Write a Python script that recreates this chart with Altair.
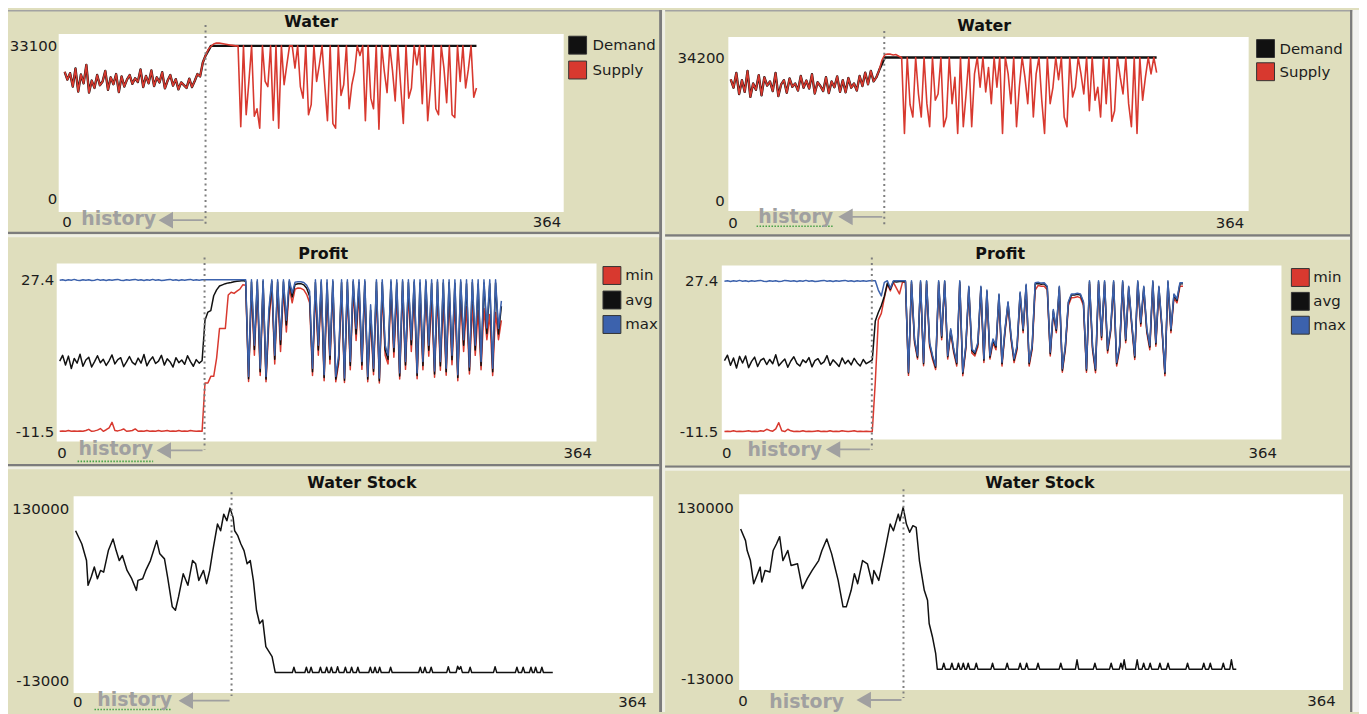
import altair as alt
import pandas as pd

OX, OY = 8, 8
W, H = 1359, 706
FONT = "DejaVu Sans"
BEIGE = "#dfdebd"
RED = "#d8392f"
BLUE = "#3c62ad"
BLACK = "#111111"
HIST_GREY = "#a0a0a0"
LABEL = "#1c1c1c"

# ---------------- data ----------------
# Water, left run (t = 0, 2, 4, ...)
TL_PRE = [27500, 25800, 27200, 24300, 28200, 23200, 26900, 25000, 29000, 23000,
          25600, 24000, 26800, 24600, 25400, 27700, 23600, 26300, 24800, 27000,
          23100, 26500, 24300, 25800, 26800, 24900, 26100, 25300, 28000, 24200,
          26600, 25000, 27800, 24400, 26300, 25200, 27400, 23900, 25600, 26800,
          24500, 25900, 23700, 25200, 24600, 24000, 26000, 24200, 25500, 27000]
TL_SUPPLY_RAMP = [26500, 29500, 31000, 32300, 33000, 33500, 33700, 33700, 33600, 33500,
                  33400, 33300, 33200, 33100]
TL_SUPPLY_POST = [33100, 15600, 33100, 18200, 25400, 33100, 17900, 19500, 15300, 33100,
                  25400, 24300, 33100, 17000, 33100, 15300, 33100, 24700, 29000, 33100,
                  33100, 28300, 33100, 24300, 21800, 33100, 18200, 20400, 33100, 25400,
                  29000, 33100, 24700, 16900, 33100, 16300, 15300, 33100, 22400, 24700,
                  33100, 19500, 24700, 27500, 33100, 31000, 33100, 16900, 33100, 21800,
                  19500, 33100, 15100, 33100, 27500, 23000, 33100, 27800, 21200, 33100,
                  24700, 16300, 33100, 21800, 24000, 33100, 29000, 33100, 20600, 33100,
                  16900, 24000, 33100, 19500, 18200, 33100, 28300, 20800, 33100, 18200,
                  17600, 33100, 25400, 33100, 24000, 28000, 33100, 22000, 24000]
TL_DEMAND_TAIL = [(100, 26500), (102, 29500), (104, 31000), (108, 33100), (304, 33100)]

# Water, right run
TR_PRE = [29000, 27000, 30500, 25500, 28800, 26000, 31000, 24800, 28000, 26500,
          30000, 25200, 29500, 27500, 28500, 26200, 30500, 25000, 27800, 28800,
          25800, 29200, 27200, 28000, 26300, 29800, 27000, 28700, 26800, 30200,
          25600, 28300, 27400, 26200, 29500, 25700, 28500, 27100, 29700, 26000,
          28800, 25900, 29300, 27000, 28000, 26300, 29800, 27400, 30600, 27800,
          31000, 28500]
TR_SUPPLY_RAMP = [29500, 31200, 33600, 34900, 35000, 35000, 34800, 34900, 34500]
TR_SUPPLY_POST = [34200, 16100, 34200, 23000, 20000, 34200, 25500, 20000, 34200, 23200,
                  17700, 34200, 24000, 25500, 34200, 17700, 20000, 34200, 23200, 29500,
                  16100, 34200, 17700, 25500, 34200, 17700, 30300, 34200, 27100, 34200,
                  26000, 31800, 23200, 34200, 27100, 34200, 16100, 34200, 30300, 23200,
                  34200, 17700, 27100, 34200, 29500, 23200, 34200, 20000, 30300, 34200,
                  24000, 16100, 34200, 23200, 27100, 34200, 28900, 34200, 20000, 17700,
                  34200, 24800, 27100, 34200, 30300, 25500, 34200, 21500, 34200, 24000,
                  27100, 20000, 34200, 23200, 34200, 19000, 21500, 34200, 29500, 25500,
                  34200, 23200, 17700, 34200, 16100, 34200, 24000, 29500, 34200, 30300,
                  34200, 30600]
TR_DEMAND_TAIL = [(104, 29500), (106, 31200), (110, 34200), (304, 34200)]

# Profit, left run
ML_MAX_PRE = [27.3, 27.4, 27.2, 27.4, 27.3, 27.5, 27.3, 27.2, 27.4, 27.3,
              27.4, 27.2, 27.3, 27.5, 27.3, 27.4, 27.2, 27.4, 27.3, 27.4,
              27.5, 27.3, 27.2, 27.4, 27.3, 27.4, 27.5, 27.3, 27.4, 27.2,
              27.4, 27.3, 27.5, 27.3, 27.4, 27.2, 27.3, 27.4, 27.5, 27.3,
              27.4, 27.2, 27.4, 27.3, 27.4, 27.5, 27.3, 27.4, 27.3, 27.4]
ML_MAX_RAMP = [27.4, 27.4, 27.4, 27.4, 27.4, 27.4, 27.4, 27.4, 27.4, 27.4,
               27.4, 27.4, 27.4, 27.4]
ML_MAX_POST = [27.4, 2.6, 27.4, 10.6, 27.4, 4.7, 27.4, 2.6, 20.0, 27.4,
               8.0, 27.4, 12.0, 27.4, 17.0, 27.4, 24.0, 26.8, 26.9, 26.9,
               26.7, 26.0, 24.5, 4.7, 27.4, 10.6, 27.4, 3.0, 27.4, 8.0,
               27.4, 2.6, 8.0, 27.4, 2.2, 27.4, 6.4, 27.4, 14.9, 27.4,
               6.4, 27.4, 2.6, 21.0, 4.7, 27.4, 2.2, 27.4, 10.6, 8.0,
               27.4, 10.0, 27.4, 3.5, 27.4, 6.4, 27.4, 12.0, 27.4, 3.5,
               27.4, 6.4, 27.4, 10.6, 27.4, 4.0, 27.4, 6.4, 27.4, 4.7,
               27.4, 8.0, 27.4, 3.0, 27.4, 12.0, 27.4, 5.0, 27.4, 10.6,
               27.4, 6.4, 27.4, 15.0, 27.4, 4.7, 27.4, 14.9, 22.0]
ML_AVG_PRE = [6.5, 8.0, 5.5, 7.8, 4.6, 7.2, 6.0, 8.3, 5.2, 6.8,
              7.5, 5.0, 6.4, 7.9, 6.1, 7.0, 5.4, 6.6, 8.1, 5.8,
              6.9, 7.4, 5.1, 6.3, 7.7, 6.2, 5.6, 7.3, 6.0, 8.2,
              5.3, 6.7, 7.6, 5.9, 6.5, 8.0, 5.5, 7.1, 6.3, 5.0,
              7.4, 6.1, 6.8, 5.7, 7.9, 6.4, 5.2, 6.9, 6.0, 6.6]
ML_AVG_RAMP = [17.0, 19.1, 19.5, 23.3, 24.8, 25.8, 26.1, 26.4, 26.6, 26.7,
               26.9, 27.0, 27.1, 27.2]
ML_AVG_POST = [27.0, 2.0, 26.8, 9.5, 26.9, 3.8, 27.0, 1.9, 18.5, 27.0,
               7.0, 26.8, 10.8, 26.9, 15.8, 26.9, 23.0, 26.2, 26.4, 26.4,
               26.1, 25.2, 23.2, 3.8, 26.7, 9.4, 26.8, 2.3, 26.6, 7.0,
               26.9, 1.9, 7.0, 26.7, 1.6, 26.8, 5.4, 26.9, 13.5, 26.7,
               5.5, 26.9, 1.9, 19.6, 3.9, 26.8, 1.5, 26.7, 9.4, 7.0,
               26.8, 8.9, 26.6, 2.7, 26.9, 5.5, 26.7, 10.7, 26.8, 2.8,
               26.6, 5.4, 26.9, 9.3, 26.5, 3.2, 26.8, 5.3, 26.6, 3.8,
               26.7, 6.9, 26.5, 2.3, 26.8, 10.6, 26.4, 4.1, 26.7, 9.4,
               26.3, 5.4, 26.6, 13.6, 26.4, 3.8, 26.6, 13.5, 20.6]
ML_MIN_PRE = [-11.5, -11.4, -11.5, -11.3, -11.5, -11.4, -11.5, -11.4, -11.5, -11.3,
              -11.0, -11.5, -11.4, -11.2, -10.8, -11.5, -11.1, -10.6, -9.2, -11.3,
              -11.4, -11.2, -10.9, -11.5, -11.4, -11.3, -10.9, -11.5, -11.4, -11.5,
              -11.3, -11.5, -11.4, -11.5, -11.3, -11.5, -11.4, -11.3, -11.5, -11.4,
              -11.5, -11.3, -11.5, -11.4, -11.5, -11.3, -11.4, -11.5, -11.4, -11.5]
ML_MIN_RAMP = [0.9, 0.9, 2.6, 2.6, 7.3, 14.9, 14.9, 14.9, 23.5, 24.2,
               23.9, 24.5, 25.0, 26.1]
ML_MIN_POST = [26.0, 1.3, 24.5, 8.0, 25.0, 2.8, 25.5, 1.2, 16.5, 25.5,
               5.8, 24.8, 9.0, 25.0, 14.0, 25.5, 21.5, 25.0, 25.3, 25.2,
               24.8, 23.6, 21.5, 2.8, 24.6, 8.0, 25.0, 1.5, 24.0, 5.8,
               25.2, 1.2, 5.9, 24.5, 1.0, 24.8, 4.3, 25.0, 11.8, 24.2,
               4.4, 25.0, 1.2, 17.5, 3.0, 24.5, 0.9, 24.0, 8.0, 5.8,
               24.5, 7.5, 23.5, 1.9, 24.6, 4.4, 23.8, 9.0, 24.0, 2.0,
               23.0, 4.3, 24.2, 7.8, 22.5, 2.4, 23.5, 4.2, 22.0, 2.9,
               22.8, 5.6, 21.5, 1.5, 22.5, 9.0, 20.5, 3.2, 21.0, 8.0,
               19.5, 4.3, 20.0, 12.0, 18.5, 2.8, 19.0, 12.0, 17.0]

# Profit, right run
MR_MAX_PRE = [27.3, 27.4, 27.2, 27.4, 27.3, 27.5, 27.3, 27.4, 27.2, 27.4,
              27.3, 27.4, 27.5, 27.3, 27.2, 27.4, 27.3, 27.4, 27.2, 27.3,
              27.5, 27.4, 27.3, 27.4, 27.2, 27.4, 27.3, 27.5, 27.3, 27.4,
              27.2, 27.3, 27.4, 27.5, 27.3, 27.4, 27.2, 27.4, 27.3, 27.4,
              27.5, 27.3, 27.4, 27.2, 27.4, 27.3, 27.4, 27.3, 27.4]
MR_MAX_RAMP = [27.4, 27.4, 25.0, 23.5, 27.0, 27.4, 25.5, 27.4, 27.4, 27.4, 27.4, 27.4]
MR_MAX_POST = [3.9, 27.4, 12.4, 8.1, 27.4, 6.4, 27.4, 11.5, 8.1, 5.5,
               27.4, 13.2, 27.4, 8.1, 15.0, 9.8, 6.4, 27.4, 3.9, 10.7,
               26.0, 9.8, 9.0, 11.5, 26.0, 7.3, 25.0, 8.1, 12.4, 10.7,
               24.0, 6.4, 15.0, 22.0, 13.2, 7.3, 10.7, 24.5, 15.0, 26.5,
               6.4, 10.7, 26.9, 27.0, 26.8, 26.9, 26.0, 9.0, 20.0, 15.0,
               26.0, 4.7, 10.7, 22.0, 24.0, 24.0, 24.2, 24.0, 22.0, 4.7,
               27.4, 10.7, 4.7, 27.4, 13.2, 27.4, 9.8, 15.0, 27.4, 6.4,
               10.7, 27.4, 12.4, 26.0, 16.7, 8.1, 27.4, 16.7, 26.0, 15.0,
               10.7, 27.4, 11.5, 26.0, 16.0, 3.9, 27.4, 15.0, 24.0, 22.7,
               26.9, 26.9]
MR_AVG_PRE = [6.8, 8.2, 5.6, 7.5, 4.9, 7.9, 6.2, 8.0, 5.0, 6.6,
              7.7, 5.3, 6.9, 7.4, 5.8, 7.1, 6.0, 8.3, 5.5, 6.4,
              7.2, 5.1, 6.7, 7.8, 6.1, 5.4, 7.0, 6.3, 7.6, 5.2,
              6.8, 7.3, 5.9, 6.5, 8.1, 5.6, 7.0, 6.2, 5.3, 7.5,
              6.0, 6.9, 5.7, 7.4, 6.2, 5.4, 7.1, 6.0, 6.5]
MR_AVG_RAMP = [7.0, 17.0, 19.2, 21.0, 23.4, 26.8, 25.2, 27.2, 27.1, 27.2, 27.2, 27.2]
MR_AVG_POST = [3.6, 27.1, 12.0, 7.7, 27.1, 6.0, 27.2, 11.1, 7.7, 5.1,
               27.1, 12.8, 27.2, 7.8, 14.6, 9.4, 6.0, 27.1, 3.5, 10.3,
               25.7, 9.4, 8.6, 11.1, 25.7, 6.9, 24.7, 7.7, 12.0, 10.3,
               23.7, 6.0, 14.6, 21.7, 12.8, 6.9, 10.3, 24.2, 14.6, 26.2,
               6.0, 10.3, 26.6, 26.7, 26.5, 26.6, 25.7, 8.6, 19.6, 14.6,
               25.7, 4.3, 10.3, 21.7, 23.7, 23.7, 23.9, 23.7, 21.7, 4.3,
               27.1, 10.3, 4.3, 27.1, 12.8, 27.1, 9.4, 14.6, 27.1, 6.0,
               10.3, 27.1, 12.0, 25.7, 16.3, 7.7, 27.1, 16.3, 25.7, 14.6,
               10.3, 27.1, 11.1, 25.7, 15.6, 3.5, 27.1, 14.6, 23.7, 22.3,
               26.6, 26.6]
MR_MIN_PRE = [-11.5, -11.4, -11.5, -11.3, -11.5, -11.4, -11.5, -11.4, -11.3, -11.5,
              -11.4, -11.5, -11.3, -11.4, -10.9, -11.2, -11.4, -10.8, -9.2, -11.3,
              -11.5, -10.9, -11.3, -11.5, -11.4, -11.5, -11.3, -11.5, -11.4, -11.5,
              -11.4, -11.3, -11.5, -11.4, -11.5, -11.3, -11.5, -11.4, -11.5, -11.3,
              -11.4, -11.5, -11.4, -11.3, -11.5, -11.4, -11.5, -11.4, -11.5]
MR_MIN_RAMP = [-11.5, 1.3, 17.3, 19.0, 23.0, 26.5, 24.8, 27.0, 25.5, 24.0, 27.0, 27.1]
MR_MIN_POST = [3.0, 26.5, 11.4, 7.2, 26.6, 5.5, 26.5, 10.5, 7.1, 4.5,
               26.4, 12.2, 26.6, 7.2, 14.0, 8.8, 5.4, 26.4, 2.9, 9.7,
               25.0, 8.8, 8.0, 10.4, 25.1, 6.3, 24.1, 7.2, 11.4, 9.6,
               23.0, 5.4, 14.0, 21.0, 12.2, 6.3, 9.6, 23.6, 14.0, 25.5,
               5.4, 9.7, 25.0, 26.2, 26.0, 26.0, 25.1, 8.0, 19.0, 14.0,
               25.0, 3.8, 9.7, 21.0, 23.0, 23.1, 23.3, 23.0, 21.0, 3.8,
               26.5, 9.6, 3.7, 26.5, 12.2, 26.4, 8.8, 14.0, 26.4, 5.4,
               9.7, 26.4, 11.4, 25.1, 15.7, 7.1, 26.4, 15.7, 25.0, 14.0,
               9.6, 26.4, 10.5, 25.0, 15.0, 2.9, 26.4, 14.0, 23.0, 21.7,
               26.0, 26.0]

# Water stock (t, value) pairs
STOCK_L = [(0, 111200), (4, 100200), (7, 86400), (8, 65800), (10, 72700), (12, 81000),
           (14, 71300), (16, 78200), (18, 76800), (21, 94700), (24, 104400), (26, 94700),
           (28, 86400), (30, 90600), (33, 78200), (36, 71300), (39, 61600), (40, 69900),
           (43, 71300), (45, 78200), (48, 86400), (52, 103000), (54, 92000), (57, 87800),
           (59, 72700), (62, 47900), (64, 45100), (66, 56200), (69, 75400), (72, 65800),
           (75, 86400), (77, 83700), (79, 69900), (82, 78200), (84, 67200), (86, 78200),
           (88, 94700), (91, 116800), (93, 111200), (95, 125000), (97, 119500), (99, 130000),
           (101, 122300), (102, 111200), (104, 107100), (106, 100200), (108, 94700),
           (110, 83700), (112, 86400), (114, 69900), (116, 45100), (118, 34100),
           (120, 36900), (122, 14800), (124, 10700), (126, 6600), (128, -6600),
           (139, -6600), (140, -2300), (141, -6600), (147, -6600), (148, -2300), (149, -6600),
           (150, -6600), (151, -2300), (152, -6600), (156, -6600), (157, -2300), (158, -6600),
           (160, -6600), (161, -2300), (162, -6600), (163, -6600), (164, -2300), (165, -6600),
           (167, -6600), (168, -1800), (169, -6600), (172, -6600), (173, -2300), (174, -6600),
           (176, -6600), (177, -2300), (178, -6600), (180, -6600), (181, -2300), (182, -6600),
           (188, -6600), (189, -2300), (190, -6600), (191, -6600), (192, -2300), (193, -6600),
           (194, -6600), (195, -2300), (196, -6600), (201, -6600), (202, -2300), (203, -6600),
           (220, -6600), (221, -2300), (222, -6600), (223, -6600), (224, -2300), (225, -6600),
           (227, -6600), (228, -2300), (229, -6600), (238, -6600), (239, -1800), (240, -6600),
           (244, -6600), (245, -1500), (246, -4000), (247, -1800), (248, -6600),
           (252, -6600), (253, -2300), (254, -6600), (268, -6600), (269, -1800), (270, -6600),
           (282, -6600), (283, -2300), (284, -6600), (286, -6600), (287, -2300), (288, -6600),
           (291, -6600), (292, -2300), (293, -6600), (294, -6600), (295, -2300), (296, -6600),
           (298, -6600), (299, -2300), (300, -6600), (306, -6600)]
STOCK_R = [(0, 111900), (3, 102200), (4, 93900), (6, 85500), (8, 66100), (10, 73000),
           (12, 80000), (13, 67500), (15, 77200), (18, 75900), (20, 93900), (22, 99400),
           (24, 105500), (26, 85500), (29, 93900), (31, 81400), (35, 82800), (38, 62000),
           (41, 70300), (44, 77200), (48, 85500), (50, 93900), (53, 103600), (56, 91100),
           (57, 85500), (60, 68900), (63, 46700), (65, 46700), (68, 60600), (70, 74500),
           (72, 66100), (75, 85500), (78, 82800), (81, 66100), (82, 77200), (85, 68900),
           (88, 88400), (90, 102200), (92, 116100), (94, 110500), (97, 124400), (98, 118800),
           (100, 130000), (102, 116100), (104, 109200), (106, 114700), (108, 113300),
           (110, 85500), (113, 60600), (115, 52200), (116, 32800), (118, 21700), (120, 7800),
           (121, -5500),
           (124, -5500), (125, -500), (126, -5500), (129, -5500), (130, -500), (131, -5500),
           (133, -5500), (134, -500), (135, -5500), (136, -5500), (137, -500), (138, -5500),
           (139, -5500), (140, -500), (141, -5500), (144, -5500), (145, -500), (146, -5500),
           (154, -5500), (155, -500), (156, -5500), (163, -5500), (164, -500), (165, -5500),
           (171, -5500), (172, -500), (173, -5500), (175, -5500), (176, -500), (177, -5500),
           (182, -5500), (183, -500), (184, -5500), (196, -5500), (197, -500), (198, -5500),
           (206, -5500), (207, 2300), (208, -5500), (217, -5500), (218, -500), (219, -5500),
           (227, -5500), (228, -500), (229, -5500), (233, -5500), (234, -500), (235, -5500),
           (236, 2300), (237, -5500), (243, -5500), (244, 2300), (245, -5500), (247, -5500),
           (248, -500), (249, -5500), (251, -5500), (252, -500), (253, -5500), (257, -5500),
           (258, -500), (259, -5500), (262, -5500), (263, -500), (264, -5500), (274, -5500),
           (275, -500), (276, -5500), (284, -5500), (285, -500), (286, -5500), (288, -5500),
           (289, -500), (290, -5500), (296, -5500), (297, -500), (298, -5500), (301, -5500),
           (302, 2300), (303, -5500), (305, -5500)]


def grid(values):
    return [2 * i for i in range(len(values))]


def pairs(p):
    return [a for a, _ in p], [b for _, b in p]


# ---------------- panel layout (screen pixels of the reference) ----------------
PANELS = {
    "TL": dict(white=(59, 32, 567, 211), x0=65, x364=561, vmin=0, vmax=33100, yvmin=198, yvmax=44,
               fmt="d", lpad=2, xlab_y=220.5, hist=104, dot=(23, 226), hist_end=157,
               arrow_y=219.3, hist_base=224.3, head=40),
    "TR": dict(white=(732.6, 35, 1256, 210), x0=735, x364=1248, vmin=0, vmax=34200, yvmin=200,
               yvmax=55.7, fmt="d", lpad=4, xlab_y=221.7, hist=109.6, dot=(29, 224), hist_end=838,
               arrow_y=216, hist_base=221.7, head=39),
    "ML": dict(white=(57, 263, 600, 442), x0=60, x364=592, vmin=-11.5, vmax=27.4, yvmin=431.7,
               yvmax=279.3, fmt=".1f", lpad=3, xlab_y=453.3, hist=99.7, dot=(257, 450),
               hist_end=154, arrow_y=451, hist_base=455.5, head=41),
    "MR": dict(white=(726, 265, 1289, 440), x0=728.7, x364=1281, vmin=-11.5, vmax=27.4, yvmin=432,
               yvmax=280.3, fmt=".1f", lpad=4, xlab_y=453, hist=97.7, dot=(257, 450),
               hist_end=827, arrow_y=450, hist_base=456.7, head=39),
    "BL": dict(white=(74, 497, 657, 695), x0=76, x364=647, vmin=-13000, vmax=130000, yvmin=682,
               yvmax=509, fmt="d", lpad=5, xlab_y=703.3, hist=100, dot=(493, 698), hist_end=173,
               arrow_y=702.7, hist_base=708.3, head=46),
    "BR": dict(white=(743.5, 495, 1351, 692), x0=745, x364=1340, vmin=-13000, vmax=130000,
               yvmin=680, yvmax=508.3, fmt="d", lpad=6, xlab_y=702.3, hist=100.2, dot=(490, 700),
               hist_end=849, arrow_y=702, hist_base=710, head=40),
}

TITLES = [("Water", 313, 20), ("Water", 990, 24), ("Profit", 325, 253), ("Profit", 1006, 253),
          ("Water Stock", 364, 484), ("Water Stock", 1046, 483.3)]

DARK, LIGHT = "#7c7c7c", "#efefe4"
FRAMES = [
    (8, 8, 1367, 9.5, "#a2a2a2"),
    (663, 8, 666, 714, DARK), (666, 8, 669, 714, LIGHT),
    (8, 231, 663, 233.5, DARK), (8, 233.5, 663, 236.5, LIGHT),
    (669, 233.5, 1358, 236, DARK), (669, 236, 1358, 239, LIGHT),
    (8, 464.5, 663, 467, DARK), (8, 467, 663, 470, LIGHT),
    (669, 466, 1358, 468.5, DARK), (669, 468.5, 1358, 471.5, LIGHT),
    (1358, 8, 1360.5, 714, DARK), (1360.5, 8, 1367, 714, "#f3f3f0"),
]
for key in PANELS:
    x1, y1, x2, y2 = PANELS[key]["white"]
    FRAMES.append((x1, y1, x2, y2, "#ffffff"))

GREEN_MARKS = [(78, 154, 462), (761, 838, 225.5), (95, 173, 711.5)]

# ---------------- chart building ----------------
frames_df = pd.DataFrame([dict(x=a - OX, x2=c - OX, y=b - OY, y2=d - OY, c=col)
                          for a, b, c, d, col in FRAMES])
frames_layer = alt.Chart(frames_df).mark_rect().encode(
    x=alt.X("x:Q", scale=None, axis=None), x2="x2:Q",
    y=alt.Y("y:Q", scale=None, axis=None), y2="y2:Q",
    color=alt.Color("c:N", scale=None, legend=None))

green_df = pd.DataFrame([dict(x=a - OX, x2=b - OX, y=c - OY) for a, b, c in GREEN_MARKS])
green_layer = alt.Chart(green_df).mark_rule(color="#46a046", strokeWidth=1.6, strokeDash=[1.5, 1.5]).encode(
    x=alt.X("x:Q", scale=None, axis=None), x2="x2:Q", y=alt.Y("y:Q", scale=None, axis=None))

titles_df = pd.DataFrame([dict(text=t, x=x - OX, y=y - OY) for t, x, y in TITLES])
titles_layer = alt.Chart(titles_df).mark_text(font=FONT, fontSize=16, fontWeight="bold", color="#111111",
                                              align="center", baseline="middle").encode(
    x=alt.X("x:Q", scale=None, axis=None), y=alt.Y("y:Q", scale=None, axis=None), text="text:N")


def build_panel(p, series):
    xs = alt.Scale(domain=[0, 364], range=[p["x0"] - OX, p["x364"] - OX], nice=False, zero=False)
    ys = alt.Scale(domain=[p["vmin"], p["vmax"]], range=[p["yvmin"] - OY, p["yvmax"] - OY],
                   nice=False, zero=False)
    xax = alt.Axis(orient="bottom", values=[0, 364], format="d", offset=p["xlab_y"] - OY - H,
                   labelPadding=0, labelBaseline="middle", labelFlush=True, labelFlushOffset=3,
                   domain=False, ticks=False, tickSize=0, grid=False, title=None,
                   labelFont=FONT, labelFontSize=15, labelColor=LABEL)
    yax = alt.Axis(orient="left", values=[p["vmin"], p["vmax"]], format=p["fmt"],
                   offset=-(p["white"][0] - OX), labelPadding=p["lpad"], labelBaseline="middle",
                   labelFlush=False, domain=False, ticks=False, tickSize=0, grid=False, title=None,
                   labelFont=FONT, labelFontSize=15, labelColor=LABEL,
                   labelExpr="replace(datum.label, '\u2212', '-')")
    Y = alt.Y("v:Q", scale=ys, axis=yax)
    layers = []
    for ts, vs, col, sw in series:
        df = pd.DataFrame({"t": ts, "v": vs})
        layers.append(alt.Chart(df).mark_line(color=col, strokeWidth=sw, strokeJoin="round").encode(
            x=alt.X("t:Q", scale=xs, axis=xax), y=Y))
    # "history" annotation: dotted marker, arrow and label (layout offsets in screen pixels)
    ppu = (p["x364"] - p["x0"]) / 364.0
    D = p["x0"] + p["hist"] * ppu
    hd = alt.Chart(pd.DataFrame({"t": [p["hist"]],
                                 "ta": [p["hist"] - p["head"] / ppu],
                                 "tb": [p["hist"] - 2 / ppu]}))
    layers.append(hd.mark_rule(color="#7e7e7e", strokeWidth=2, strokeDash=[2, 3.5]).encode(
        x=alt.X("t:Q", scale=xs, axis=xax), y=alt.value(p["dot"][0] - OY), y2=alt.value(p["dot"][1] - OY)))
    layers.append(hd.mark_rule(color=HIST_GREY, strokeWidth=1.8).encode(
        x=alt.X("ta:Q", scale=xs, axis=xax), x2="tb:Q", y=alt.value(p["arrow_y"] - OY)))
    layers.append(hd.mark_point(shape="triangle-left", filled=True, size=280, opacity=1,
                                color=HIST_GREY).encode(
        x=alt.X("ta:Q", scale=xs, axis=xax), y=alt.value(p["arrow_y"] - OY)))
    layers.append(hd.mark_text(text="history", font=FONT, fontSize=19, fontWeight="bold",
                               color=HIST_GREY, align="right", baseline="alphabetic",
                               dx=p["hist_end"] - D).encode(
        x=alt.X("t:Q", scale=xs, axis=xax), y=alt.value(p["hist_base"] - OY)))
    return alt.layer(*layers)


def build_legend(names, colors, sq_x, txt_x, y_first, y_last):
    df = pd.DataFrame({"name": names})
    y = alt.Y("name:N", scale=alt.Scale(domain=names, range=[y_first - OY, y_last - OY], padding=0),
              axis=None)
    sq = alt.Chart(df).mark_square(size=324, filled=True, opacity=1, stroke="#333333", strokeWidth=1).encode(
        x=alt.value(sq_x - OX), y=y,
        color=alt.Color("name:N", scale=alt.Scale(domain=names, range=colors), legend=None))
    tx = alt.Chart(df).mark_text(align="left", baseline="middle", font=FONT, fontSize=15, color=LABEL).encode(
        x=alt.value(txt_x - OX), y=y, text="name:N")
    return alt.layer(sq, tx)


tl_sup = TL_PRE + TL_SUPPLY_RAMP + TL_SUPPLY_POST
tl_dt, tl_dv = pairs(TL_DEMAND_TAIL)
tr_sup = TR_PRE + TR_SUPPLY_RAMP + TR_SUPPLY_POST
tr_dt, tr_dv = pairs(TR_DEMAND_TAIL)
ml_max = ML_MAX_PRE + ML_MAX_RAMP + ML_MAX_POST
ml_avg = ML_AVG_PRE + ML_AVG_RAMP + ML_AVG_POST
ml_min = ML_MIN_PRE + ML_MIN_RAMP + ML_MIN_POST
mr_max = MR_MAX_PRE + MR_MAX_RAMP + MR_MAX_POST
mr_avg = MR_AVG_PRE + MR_AVG_RAMP + MR_AVG_POST
mr_min = MR_MIN_PRE + MR_MIN_RAMP + MR_MIN_POST
bl_t, bl_v = pairs(STOCK_L)
br_t, br_v = pairs(STOCK_R)

panels = [
    build_panel(PANELS["TL"], [(grid(TL_PRE) + tl_dt, TL_PRE + tl_dv, BLACK, 2.4),
                               (grid(tl_sup), tl_sup, RED, 1.6)]),
    build_panel(PANELS["TR"], [(grid(TR_PRE) + tr_dt, TR_PRE + tr_dv, BLACK, 2.4),
                               (grid(tr_sup), tr_sup, RED, 1.6)]),
    build_panel(PANELS["ML"], [(grid(ml_min), ml_min, RED, 1.5),
                               (grid(ml_avg), ml_avg, BLACK, 1.5),
                               (grid(ml_max), ml_max, BLUE, 1.5)]),
    build_panel(PANELS["MR"], [(grid(mr_min), mr_min, RED, 1.5),
                               (grid(mr_avg), mr_avg, BLACK, 1.5),
                               (grid(mr_max), mr_max, BLUE, 1.5)]),
    build_panel(PANELS["BL"], [(bl_t, bl_v, BLACK, 1.5)]),
    build_panel(PANELS["BR"], [(br_t, br_v, BLACK, 1.5)]),
]

legends = [
    build_legend(["Demand", "Supply"], [BLACK, RED], 581, 596, 43.3, 68.3),
    build_legend(["Demand", "Supply"], [BLACK, RED], 1273, 1287, 46.7, 70),
    build_legend(["min", "avg", "max"], [RED, BLACK, BLUE], 615.5, 629, 275, 324.3),
    build_legend(["min", "avg", "max"], [RED, BLACK, BLUE], 1308, 1321, 277, 325),
]

chart = alt.layer(frames_layer, green_layer, titles_layer, *panels, *legends).resolve_scale(
    x="independent", y="independent", color="independent"
).properties(
    width=W, height=H, padding=0, background=BEIGE,
    autosize=alt.AutoSizeParams(type="none")
).configure_view(strokeWidth=0)

chart.save("out.html", embed_options={"renderer": "svg", "actions": False})
